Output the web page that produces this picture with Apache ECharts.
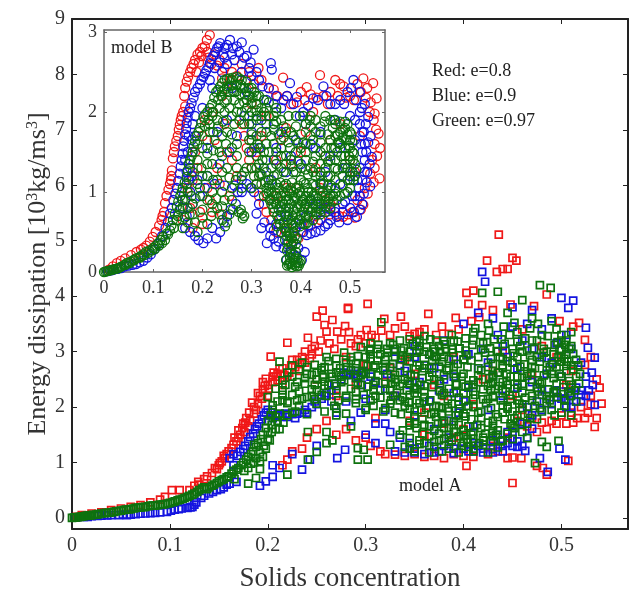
<!DOCTYPE html>
<html><head><meta charset="utf-8">
<style>html,body{margin:0;background:#fff}#c{width:637px;height:590px;filter:blur(.45px)}</style>
<script src="https://cdn.jsdelivr.net/npm/echarts@6/dist/echarts.min.js"></script>
</head><body><div id="c"></div>
<script>
const mainTicksX=[0,0.1,0.2,0.3,0.4,0.5];
const mainTicksY=[0,1,2,3,4,5,6,7,8,9];
const insetTicksX=[0,0.1,0.2,0.3,0.4,0.5];
const insetTicksY=[0,1,2,3];
const legendLines=['Red: e=0.8','Blue: e=0.9','Green: e=0.97'];

const modelARed=[[.005,.02],[.01,.05],[.02,.08],[.03,.1],[.04,.14],[.05,.17],[.06,.2],[.07,.23],[.08,.28],[.09,.33],[.095,.38],[.102,.5],[.11,.5],[.12,.5],[.125,.58],[.129,.65],[.135,.7],[.143,.81],[.148,.88],[.151,.99],[.156,1.08],[.163,1.26],[.168,1.38],[.174,1.62],[.172,1.5],[.178,1.8],[.18,1.65],[.184,2.08],[.188,1.95],[.192,2.2],[.195,2.3],[.198,2.51],[.2,2.2],[.203,2.91],[.205,2.45],[.208,2.55],[.212,2.69],[.215,2.4],[.22,3.16],[.224,2.75],[.23,2.85],[.235,2.9],[.241,3.25],[.245,2.95],[.25,3.63],[.252,3.0],[.256,3.74],[.258,3.48],[.26,3.36],[.266,3.57],[.271,3.36],[.279,3.46],[.282,3.79],[.285,3.15],[.29,3.1],[.301,3.39],[.302,3.86],[.282,3.77],[.295,3.3],[.31,3.25],[.319,3.59],[.325,3.3],[.336,3.63],[.345,3.28],[.355,3.35],[.364,3.68],[.372,3.3],[.385,3.32],[.392,3.61],[.403,4.06],[.405,3.86],[.41,4.1],[.419,3.84],[.424,4.64],[.434,4.44],[.436,5.11],[.44,4.49],[.445,4.49],[.45,4.69],[.454,4.64],[.485,4.03],[.518,3.52],[.524,3.21],[.524,2.76],[.539,2.35],[.541,2.06],[.536,1.8],[.534,1.64],[.524,1.8],[.516,1.8],[.53,2.2],[.52,2.0],[.51,1.9],[.5,1.85],[.49,1.75],[.48,1.72],[.47,1.8],[.46,1.95],[.507,1.03],[.485,.78],[.481,.9],[.475,.94],[.459,1.08],[.45,1.09],[.445,1.08],[.45,.63],[.403,.94],[.41,1.1],[.39,1.15],[.37,1.12],[.35,1.15],[.33,1.14],[.315,1.2],[.3,1.45],[.28,1.6],[.26,1.75],[.24,1.45],[.225,1.2],[.215,.95],[.35,2.6],[.36,1.9],[.38,2.2],[.4,1.6],[.42,2.5],[.44,3.0],[.46,3.4],[.33,2.2],[.31,1.8],[.29,2.4],[.27,2.2],[.25,2.5],[.47,2.6],[.495,2.9],[.505,2.4],[.43,1.3],[.39,1.45],[.345,1.75],[.325,2.7]];
const modelARedDense=[[.13,.6],[.138,.75],[.146,.9],[.153,1.02],[.158,1.15],[.165,1.32],[.17,1.44],[.176,1.55],[.182,1.75],[.186,1.88],[.19,2.05],[.194,2.15],[.197,2.38],[.201,2.33],[.206,2.62],[.21,2.48],[.217,2.58],[.222,2.62],[.228,2.72],[.233,2.78],[.238,3.0],[.243,2.88],[.248,3.1],[.254,3.2],[.263,3.15],[.268,3.05],[.275,3.22],[.283,3.35],[.292,3.22],[.3,3.15],[.306,3.3],[.316,3.38],[.33,3.42],[.34,3.45],[.35,3.32],[.36,3.4],[.378,3.45],[.395,3.4],[.408,3.55],[.416,3.62],[.43,3.75],[.448,3.85],[.472,3.82],[.498,3.55],[.512,3.45],[.53,2.9],[.536,2.5],[.53,2.05],[.527,1.9],[.512,1.72],[.505,1.7],[.495,1.7],[.485,1.6],[.475,1.55],[.465,1.65],[.455,1.75],[.445,1.45],[.435,1.2],[.425,1.15],[.4,1.12],[.38,1.08],[.36,1.1],[.34,1.12],[.32,1.15],[.305,1.3],[.29,1.4],[.27,1.5],[.25,1.6],[.235,1.25],[.22,1.05],[.34,2.85],[.37,2.4],[.39,2.9],[.41,2.05],[.43,2.65],[.45,2.2],[.48,3.1],[.51,2.65],[.36,1.5],[.38,1.7],[.32,2.45],[.3,2.75],[.28,2.9],[.175,1.7],[.181,1.9],[.186,2.0],[.19,2.25],[.195,2.45],[.2,2.4],[.205,2.55],[.21,2.6],[.215,2.7],[.22,2.55],[.225,2.85],[.232,2.65],[.238,2.8],[.245,3.05],[.15,.95],[.155,1.12],[.16,1.2],[.166,1.45],[.17,1.58],[.177,1.72]];

const modelABlue=[[.004,.01],[.012,.02],[.02,.03],[.03,.04],[.04,.05],[.048,.05],[.056,.05],[.065,.07],[.075,.08],[.085,.09],[.097,.11],[.105,.15],[.112,.17],[.118,.18],[.123,.2],[.127,.28],[.132,.36],[.14,.44],[.148,.5],[.155,.55],[.161,.62],[.168,.65],[.192,.58],[.198,.66],[.205,.74],[.205,.95],[.212,.9],[.235,.87],[.243,1.05],[.225,1.15],[.25,1.3],[.271,1.08],[.279,1.23],[.161,1.08],[.165,1.15],[.172,1.19],[.177,1.3],[.182,1.46],[.187,1.6],[.191,1.7],[.196,1.85],[.2,1.95],[.205,1.8],[.21,1.85],[.215,1.82],[.22,1.82],[.225,1.87],[.23,1.88],[.235,1.9],[.24,1.9],[.245,2.0],[.25,2.05],[.255,2.15],[.26,2.25],[.265,2.3],[.27,2.38],[.275,2.5],[.28,2.58],[.284,2.58],[.288,2.6],[.292,2.55],[.296,2.4],[.305,2.55],[.315,2.3],[.32,1.95],[.325,1.55],[.33,1.2],[.34,1.18],[.35,1.25],[.36,1.15],[.37,1.6],[.375,1.2],[.385,1.45],[.39,1.17],[.395,1.9],[.405,1.2],[.41,2.4],[.415,1.3],[.419,4.44],[.422,4.26],[.42,1.18],[.43,1.24],[.435,1.5],[.44,1.4],[.445,1.55],[.45,1.3],[.455,1.28],[.463,1.21],[.47,1.61],[.478,1.08],[.486,.83],[.498,1.25],[.504,1.05],[.5,3.97],[.512,3.92],[.507,3.79],[.525,3.43],[.527,3.07],[.534,2.89],[.531,2.62],[.532,2.4],[.534,2.04],[.525,2.2],[.52,2.3],[.515,2.1],[.51,2.25],[.505,2.0],[.495,2.3],[.485,2.2],[.475,2.1],[.465,2.0],[.455,2.7],[.44,3.1],[.43,3.6],[.415,3.7],[.45,3.8],[.47,3.75],[.49,3.6],[.505,3.3],[.4,3.5],[.38,3.2],[.35,3.1],[.33,3.0],[.345,2.4],[.36,2.75],[.38,2.5],[.4,2.1],[.425,2.8],[.46,3.2],[.48,2.9],[.3,1.5],[.31,1.35],[.285,1.75],[.27,1.9],[.3,2.15]];
const modelABlueDense=[[.016,.02],[.026,.035],[.036,.045],[.052,.06],[.06,.06],[.07,.075],[.08,.085],[.09,.1],[.101,.13],[.109,.16],[.121,.19],[.125,.24],[.135,.4],[.144,.47],[.152,.52],[.158,.6],[.165,.95],[.169,1.12],[.175,1.24],[.18,1.38],[.185,1.52],[.189,1.65],[.194,1.78],[.198,1.9],[.203,1.9],[.208,1.85],[.218,1.88],[.228,1.8],[.238,1.95],[.248,2.1],[.258,2.2],[.268,2.42],[.278,2.62],[.29,2.65],[.298,2.62],[.31,2.45],[.322,2.6],[.335,2.75],[.35,2.9],[.365,2.95],[.39,2.85],[.405,2.95],[.42,3.05],[.435,3.3],[.45,3.45],[.465,3.5],[.48,3.4],[.495,3.15],[.51,3.05],[.52,2.8],[.525,2.55],[.528,2.3],[.52,2.1],[.51,2.0],[.5,2.15],[.49,2.05],[.48,1.95],[.47,1.85],[.46,1.7],[.45,1.55],[.44,1.3],[.43,1.4],[.42,1.25],[.41,1.35],[.4,1.25],[.38,1.3],[.365,1.3],[.345,1.35],[.335,1.45],[.32,1.7],[.31,1.7],[.295,1.9],[.28,2.1],[.265,2.1],[.35,1.85],[.365,2.1],[.385,1.75],[.375,2.3],[.39,2.25],[.41,1.65],[.425,1.95],[.44,2.2],[.455,2.35],[.47,2.45],[.485,2.6],[.5,2.55],[.415,2.7],[.43,2.55],[.445,2.9],[.47,3.05],[.49,2.8],[.34,2.65],[.33,2.2],[.355,2.45],[.37,2.7],[.39,2.55],[.405,2.35],[.445,1.35],[.45,1.42],[.455,1.38],[.46,1.3],[.465,1.45],[.44,1.2],[.43,1.18],[.41,1.2],[.39,1.25],[.37,1.18],[.35,1.18],[.5,2.28],[.51,2.2],[.52,2.22],[.515,2.35],[.505,2.12],[.495,2.18],[.48,2.32]];

const modelAGreen=[[0,0],[.004,.01],[.008,.02],[.012,.03],[.016,.04],[.02,.05],[.025,.06],[.03,.08],[.035,.09],[.04,.1],[.045,.12],[.05,.13],[.055,.15],[.06,.16],[.065,.18],[.07,.19],[.075,.2],[.08,.22],[.085,.22],[.09,.24],[.095,.25],[.1,.27],[.105,.3],[.11,.33],[.115,.36],[.12,.4],[.125,.44],[.13,.5],[.135,.55],[.14,.55],[.145,.6],[.15,.66],[.155,.7],[.16,.75],[.165,.85],[.17,.9],[.175,1.0],[.18,1.1],[.185,1.2],[.19,1.35],[.195,1.5],[.2,1.75],[.205,1.95],[.188,.72],[.18,.62],[.195,1.1],[.202,1.4],[.208,1.6],[.212,2.82],[.21,2.1],[.215,2.3],[.22,.78],[.22,2.1],[.225,2.75],[.225,1.9],[.23,2.45],[.235,2.15],[.241,1.05],[.241,1.55],[.24,2.6],[.245,2.2],[.25,1.19],[.25,2.5],[.255,2.7],[.26,1.35],[.26,1.55],[.26,2.2],[.265,2.6],[.266,1.4],[.27,2.75],[.27,2.3],[.275,2.45],[.28,2.8],[.28,2.2],[.285,2.9],[.29,2.7],[.292,1.05],[.292,1.26],[.298,1.23],[.302,1.05],[.295,2.4],[.3,2.9],[.305,3.05],[.305,2.6],[.31,2.2],[.316,3.53],[.315,2.95],[.32,2.7],[.325,3.15],[.325,2.3],[.33,1.9],[.33,2.9],[.335,3.2],[.335,1.5],[.34,2.5],[.34,2.1],[.345,3.0],[.345,1.25],[.35,1.7],[.35,2.35],[.355,3.2],[.355,2.75],[.36,1.35],[.36,2.1],[.365,1.65],[.365,2.95],[.37,1.9],[.37,2.5],[.375,3.1],[.375,1.4],[.38,1.75],[.38,2.25],[.385,2.7],[.385,1.25],[.39,1.55],[.39,3.2],[.395,2.05],[.395,1.85],[.4,1.35],[.4,2.85],[.405,1.65],[.405,2.4],[.41,3.35],[.41,1.25],[.415,1.9],[.415,2.7],[.419,4.06],[.42,3.15],[.42,1.45],[.425,2.15],[.425,3.5],[.43,1.75],[.43,2.55],[.435,4.08],[.435,3.0],[.44,1.4],[.44,2.3],[.445,3.7],[.445,2.0],[.45,2.8],[.45,1.65],[.455,3.35],[.455,2.4],[.46,3.93],[.46,3.0],[.46,2.05],[.465,1.44],[.465,2.6],[.47,3.6],[.47,2.2],[.473,.99],[.475,2.9],[.478,4.2],[.48,1.37],[.48,3.3],[.48,2.45],[.485,1.28],[.485,3.0],[.489,4.15],[.49,2.6],[.49,3.55],[.495,2.25],[.497,1.39],[.5,2.9],[.5,3.2],[.505,2.65],[.51,3.35],[.51,2.35],[.515,2.85],[.519,2.6],[.515,2.1],[.5,1.9],[.51,1.85],[.49,1.95],[.36,3.0],[.39,2.6],[.41,2.15],[.44,2.75],[.47,3.2],[.375,2.0],[.33,2.45],[.31,2.75],[.3,1.95],[.285,1.65],[.27,1.85]];
const modelAGreenDense=[[.002,.005],[.006,.015],[.01,.025],[.014,.035],[.018,.045],[.022,.055],[.027,.07],[.033,.085],[.038,.095],[.043,.11],[.048,.125],[.053,.14],[.058,.155],[.063,.17],[.068,.185],[.073,.195],[.078,.21],[.083,.22],[.088,.23],[.093,.245],[.098,.26],[.103,.285],[.108,.315],[.113,.345],[.118,.38],[.123,.42],[.128,.47],[.133,.53],[.138,.52],[.143,.58],[.148,.63],[.153,.68],[.158,.73],[.163,.8],[.168,.87],[.173,.95],[.178,1.05],[.183,1.15],[.188,1.28],[.193,1.42],[.198,1.62],[.203,1.85],[.166,.7],[.176,.85],[.186,1.0],[.192,.88],[.198,1.25],[.204,1.55],[.21,1.75],
[.412,3.42],[.426,3.38],[.441,3.45],[.452,3.52],[.468,3.42],[.476,3.5],[.495,3.4],[.345,3.22],[.36,3.28],[.372,3.2],[.388,3.3],[.402,3.24],[.418,3.3],[.431,3.22],[.447,3.3],[.463,3.24],[.486,3.28],[.505,3.2],[.295,3.08],[.313,3.12],[.33,3.05],[.348,3.14],[.362,3.08],[.381,3.13],[.396,3.06],[.409,3.12],[.427,3.06],[.442,3.14],[.458,3.1],[.472,3.05],[.493,3.12],[.508,3.05],[.26,2.9],[.278,2.98],[.292,2.92],[.322,2.98],[.338,2.93],[.352,2.98],[.37,2.92],[.389,2.98],[.403,2.93],[.422,2.98],[.437,2.9],[.451,2.97],[.468,2.93],[.482,2.98],[.497,2.9],[.512,2.96],[.235,2.8],[.248,2.76],[.262,2.83],[.298,2.78],[.312,2.84],[.328,2.78],[.345,2.83],[.36,2.76],[.378,2.82],[.394,2.78],[.408,2.84],[.43,2.78],[.445,2.83],[.462,2.77],[.478,2.82],[.491,2.77],[.506,2.82],[.517,2.75],[.22,2.62],[.232,2.68],[.27,2.62],[.285,2.66],[.3,2.6],[.318,2.66],[.335,2.62],[.351,2.68],[.368,2.62],[.383,2.66],[.4,2.6],[.418,2.66],[.435,2.62],[.452,2.68],[.469,2.62],[.485,2.66],[.498,2.6],[.512,2.68],[.215,2.48],[.238,2.52],[.258,2.46],[.29,2.52],[.31,2.47],[.326,2.53],[.343,2.47],[.358,2.52],[.375,2.47],[.392,2.53],[.41,2.48],[.426,2.52],[.444,2.47],[.46,2.53],[.476,2.48],[.492,2.52],[.508,2.47],[.518,2.42],[.208,2.33],[.228,2.37],[.245,2.32],[.27,2.38],[.285,2.33],[.302,2.37],[.32,2.33],[.335,2.38],[.352,2.32],[.368,2.36],[.385,2.33],[.402,2.37],[.42,2.32],[.436,2.38],[.452,2.33],[.468,2.37],[.486,2.32],[.502,2.36],[.514,2.3],[.2,2.18],[.225,2.22],[.24,2.18],[.255,2.22],[.28,2.17],[.298,2.22],[.315,2.17],[.345,2.22],[.36,2.18],[.378,2.22],[.395,2.17],[.412,2.22],[.43,2.18],[.447,2.22],[.463,2.17],[.48,2.22],[.496,2.18],[.509,2.2],[.205,2.03],[.22,2.07],[.232,2.02],[.25,2.06],[.268,2.02],[.29,2.07],[.308,2.02],[.325,2.06],[.34,2.02],[.355,2.07],[.372,2.02],[.388,2.06],[.405,2.02],[.423,2.07],[.44,2.03],[.457,2.06],[.473,2.02],[.485,2.07],[.503,2.02],[.212,1.88],[.228,1.92],[.24,1.87],[.258,1.92],[.28,1.88],[.318,1.92],[.336,1.87],[.35,1.92],[.367,1.87],[.385,1.92],[.4,1.88],[.418,1.92],[.433,1.87],[.45,1.92],[.466,1.88],[.48,1.92],[.345,1.72],[.358,1.78],[.39,1.74],[.408,1.78],[.425,1.72],[.442,1.78],[.458,1.73],[.475,1.78],[.338,1.58],[.352,1.62],[.37,1.57],[.385,1.62],[.4,1.58],[.418,1.62],[.435,1.58],[.452,1.62],[.345,1.44],[.365,1.47],[.38,1.43],[.395,1.47],[.41,1.43],[.43,1.47],[.325,1.32],[.34,1.28],[.355,1.33],[.37,1.28],[.385,1.33],[.405,1.28],[.42,1.32],[.435,1.27],[.35,1.2],[.365,1.18],[.378,1.2],[.395,1.18],[.41,1.2],[.425,1.18]];
const modelAGreenSolid=[[.2,1.55],[.204,1.68],[.208,1.82],[.212,1.6],[.216,1.72],[.22,1.85],[.183,.98],[.188,1.08],[.192,1.18],[.196,1.3],[.2,1.42],[.186,1.32],[.18,.9],[.192,1.02],[.25,2.62],[.258,2.72],[.266,2.55],[.274,2.7],[.282,2.58],[.29,2.78],[.296,2.62],[.302,2.74],[.248,2.4],[.256,2.55],[.262,2.4],[.278,2.48],[.32,1.98],[.326,2.12],[.332,2.26],[.338,2.18],[.344,2.08],[.35,2.25],[.356,2.4],[.32,2.42],[.33,2.58],[.338,2.42],[.346,2.58],[.352,2.12],[.357,1.95],[.328,2.2],[.375,1.52],[.38,1.62],[.385,1.5],[.378,1.88],[.384,1.98],[.39,1.68],[.392,1.85],[.374,1.7],[.372,2.9],[.376,3.0],[.38,2.9],[.37,3.05],[.382,3.05],[.398,1.3],[.404,1.42],[.41,1.55],[.416,1.35],[.422,1.52],[.428,1.38],[.433,1.5],[.4,1.5],[.425,2.38],[.43,2.45],[.436,2.62],[.44,2.45],[.444,2.6],[.432,2.33],[.495,2.72],[.5,2.82],[.505,2.95],[.51,3.1],[.498,3.05],[.504,3.12],[.51,2.75],[.5,3.3],[.492,2.95],[.305,2.95],[.312,3.05],[.32,2.85],[.328,3.12],[.336,3.02],[.305,3.15],[.342,2.9],[.355,3.1],[.365,2.7],[.392,2.4],[.4,2.25],[.448,2.15],[.455,2.55],[.47,2.72],[.475,2.35],[.485,2.15],[.455,1.85],[.44,1.9],[.43,2.2],[.415,2.45]];
const modelAGreenFill=[[.352,3.17],[.366,3.22],[.38,3.19],[.394,3.18],[.41,3.2],[.424,3.17],[.439,3.22],[.455,3.18],[.475,3.2],[.496,3.17],[.304,3.02],[.322,3.05],[.339,3.06],[.355,3.03],[.371,3.0],[.388,3.04],[.402,3.02],[.418,3.04],[.434,3.01],[.45,3.05],[.465,3.02],[.482,3.05],[.5,3.03],[.27,2.87],[.285,2.84],[.305,2.87],[.32,2.9],[.336,2.86],[.352,2.88],[.368,2.85],[.385,2.87],[.4,2.86],[.415,2.9],[.428,2.87],[.44,2.86],[.455,2.9],[.47,2.85],[.485,2.88],[.503,2.87],[.24,2.72],[.255,2.66],[.28,2.72],[.308,2.72],[.325,2.72],[.342,2.7],[.36,2.7],[.375,2.73],[.39,2.72],[.404,2.72],[.425,2.72],[.44,2.7],[.458,2.73],[.473,2.7],[.488,2.72],[.505,2.74],[.225,2.55],[.245,2.58],[.275,2.55],[.295,2.57],[.313,2.57],[.33,2.5],[.35,2.56],[.365,2.55],[.38,2.57],[.398,2.55],[.415,2.56],[.43,2.58],[.448,2.55],[.465,2.56],[.482,2.57],[.5,2.55],[.515,2.55],[.218,2.4],[.238,2.42],[.258,2.38],[.292,2.44],[.308,2.4],[.326,2.42],[.345,2.42],[.36,2.38],[.376,2.42],[.393,2.42],[.41,2.4],[.428,2.42],[.445,2.4],[.46,2.42],[.478,2.42],[.495,2.42],[.51,2.4],[.215,2.22],[.232,2.28],[.25,2.3],[.29,2.28],[.308,2.3],[.342,2.3],[.36,2.28],[.376,2.28],[.393,2.26],[.41,2.28],[.428,2.3],[.443,2.28],[.46,2.26],[.476,2.28],[.492,2.27],[.507,2.28],[.215,2.12],[.23,2.12],[.248,2.14],[.272,2.12],[.29,2.14],[.305,2.12],[.335,2.12],[.366,2.12],[.384,2.14],[.402,2.12],[.42,2.14],[.438,2.12],[.455,2.12],[.47,2.12],[.488,2.12],[.503,2.12],[.27,1.97],[.3,1.98],[.345,1.97],[.362,1.98],[.378,1.98],[.396,1.97],[.41,2.0],[.428,1.98],[.445,1.97],[.46,1.98],[.478,1.98],[.493,1.85],[.35,1.82],[.372,1.82],[.402,1.83],[.418,1.8],[.435,1.82],[.452,1.8],[.468,1.8],[.345,1.67],[.36,1.68],[.378,1.72],[.395,1.68],[.414,1.68],[.43,1.66],[.448,1.7],[.465,1.7],[.358,1.52],[.392,1.55],[.408,1.5],[.43,1.56],[.445,1.52],[.46,1.55],[.355,1.4],[.37,1.37],[.388,1.4],[.404,1.36],[.42,1.4],[.438,1.38],[.45,1.42]];

const modelBRed=[[.01,.03],[.026,.11],[.043,.17],[.066,.25],[.08,.3],[.093,.38],[.105,.5],[.117,.65],[.122,.75],[.124,.86],[.131,1.03],[.136,1.15],[.138,1.27],[.14,1.42],[.144,1.57],[.15,1.7],[.154,1.84],[.158,1.95],[.165,2.07],[.163,2.2],[.165,2.3],[.171,2.44],[.178,2.55],[.185,2.65],[.19,2.72],[.195,2.75],[.2,2.8],[.209,2.9],[.215,2.96],[.21,2.75],[.225,2.72],[.235,2.65],[.245,2.55],[.26,2.5],[.28,2.6],[.295,2.5],[.314,2.55],[.335,2.3],[.364,2.43],[.352,2.2],[.38,2.1],[.4,2.25],[.412,2.31],[.425,2.0],[.439,2.46],[.455,2.1],[.47,2.4],[.48,2.35],[.487,2.32],[.5,2.2],[.515,2.35],[.527,2.42],[.535,2.3],[.547,2.36],[.554,2.17],[.54,2.0],[.548,1.9],[.558,1.73],[.55,1.6],[.561,1.55],[.545,1.4],[.56,1.17],[.541,1.23],[.53,1.05],[.527,.84],[.515,.9],[.505,.75],[.486,.69],[.47,.8],[.45,.9],[.43,.7],[.4,.5],[.38,.35],[.35,.5],[.33,.75],[.315,.95],[.3,1.3],[.29,1.55],[.28,1.85],[.27,1.2],[.255,.95],[.24,.72],[.22,.75],[.2,.6],[.18,.55],[.16,.65],[.17,1.05],[.19,1.3],[.21,1.05],[.23,1.3],[.25,1.5],[.2,1.7],[.22,2.0],[.24,2.2],[.3,2.1],[.32,1.7],[.35,1.4],[.37,1.8],[.4,1.5],[.43,1.3],[.46,1.65],[.5,1.4],[.52,1.7],[.35,.95],[.39,1.05],[.44,1.05]];
const modelBRedDense=[[.018,.07],[.034,.14],[.055,.21],[.075,.28],[.086,.33],[.099,.44],[.112,.58],[.119,.7],[.127,.95],[.134,1.1],[.137,1.2],[.142,1.5],[.147,1.64],[.152,1.78],[.156,1.9],[.161,2.0],[.168,2.38],[.175,2.5],[.182,2.6],[.188,2.5],[.193,2.62],[.198,2.7],[.205,2.82],[.212,2.68],[.218,2.6],[.23,2.58],[.24,2.42],[.255,2.38],[.27,2.45],[.288,2.4],[.305,2.35],[.32,2.4],[.345,2.28],[.372,2.2],[.392,2.12],[.408,2.15],[.42,2.22],[.432,2.18],[.446,2.2],[.46,2.25],[.475,2.2],[.492,2.18],[.508,2.15],[.522,2.25],[.532,2.18],[.542,2.12],[.55,1.98],[.553,1.78],[.555,1.45],[.55,1.3],[.548,1.12],[.536,.98],[.522,.78],[.51,.68],[.495,.72],[.478,.7],[.46,.72],[.44,.65],[.42,.58],[.395,.42],[.37,.55],[.34,.65],[.325,.85],[.31,1.1],[.295,1.4],[.285,1.7],[.26,1.4],[.235,1.1],[.215,.9],[.195,.75],[.175,.8],[.165,.9],[.18,1.15],[.185,1.5],[.205,1.9],[.225,1.65],[.245,1.85],[.31,1.5],[.33,1.95],[.36,1.65],[.38,1.35],[.41,1.75],[.45,1.45],[.48,1.85],[.51,1.25],[.37,1.05],[.41,.85],[.46,.85]];

const modelBBlue=[[.008,.01],[.02,.03],[.035,.05],[.05,.08],[.065,.1],[.08,.14],[.095,.22],[.11,.35],[.125,.55],[.134,.73],[.141,.9],[.148,1.05],[.154,1.23],[.158,1.4],[.161,1.57],[.165,1.72],[.168,1.86],[.172,2.0],[.178,2.11],[.185,2.25],[.195,2.35],[.202,2.44],[.208,2.52],[.215,2.61],[.222,2.7],[.23,2.8],[.236,2.86],[.245,2.8],[.256,2.9],[.27,2.82],[.28,2.87],[.29,2.7],[.304,2.78],[.295,2.55],[.315,2.4],[.339,2.61],[.341,2.53],[.335,2.3],[.35,2.2],[.365,2.15],[.378,2.36],[.392,2.19],[.405,2.0],[.425,2.17],[.446,2.32],[.46,2.1],[.48,2.15],[.495,2.25],[.507,2.4],[.52,2.25],[.53,2.1],[.537,1.94],[.542,1.7],[.544,1.44],[.535,1.25],[.541,1.07],[.525,.85],[.514,.69],[.5,.8],[.485,.75],[.473,.69],[.46,.65],[.449,.57],[.43,.5],[.412,.46],[.4,.6],[.402,.15],[.39,.2],[.371,.15],[.365,.3],[.345,.42],[.331,.36],[.32,.55],[.31,.73],[.305,1.0],[.29,1.1],[.28,1.0],[.268,.85],[.25,.7],[.236,.5],[.22,.55],[.202,.36],[.185,.45],[.165,.55],[.16,.8],[.175,1.0],[.19,1.15],[.205,1.05],[.225,1.1],[.245,1.08],[.265,1.08],[.28,1.15],[.3,1.5],[.31,1.9],[.29,2.25],[.26,2.3],[.24,2.5],[.22,2.3],[.2,2.05],[.185,1.7],[.21,1.55],[.23,1.75],[.25,1.9],[.33,1.85],[.35,1.55],[.37,1.25],[.39,1.65],[.41,1.85],[.43,1.55],[.45,1.25],[.47,1.9],[.49,1.3],[.51,1.65],[.525,1.5],[.515,1.15],[.5,1.95],[.34,1.15],[.36,.75],[.38,.85],[.42,.9],[.44,.75],[.35,.6],[.37,.5],[.385,.38],[.52,2.0]];
const modelBBlueDense=[[.015,.02],[.028,.04],[.042,.07],[.058,.09],[.072,.12],[.088,.18],[.102,.28],[.118,.45],[.13,.63],[.138,.8],[.145,.98],[.151,1.14],[.156,1.32],[.16,1.48],[.163,1.64],[.167,1.79],[.17,1.93],[.175,2.05],[.182,2.18],[.19,2.3],[.198,2.4],[.205,2.48],[.212,2.56],[.218,2.66],[.226,2.75],[.233,2.82],[.242,2.72],[.25,2.84],[.262,2.8],[.275,2.75],[.285,2.68],[.298,2.62],[.31,2.5],[.322,2.32],[.33,2.15],[.345,2.1],[.36,2.05],[.372,2.2],[.385,2.1],[.398,1.95],[.415,2.08],[.435,2.15],[.452,2.2],[.47,2.1],[.488,2.1],[.502,2.3],[.512,2.15],[.524,2.05],[.532,1.85],[.537,1.62],[.54,1.35],[.534,1.12],[.528,.98],[.52,.78],[.508,.75],[.495,.65],[.478,.62],[.455,.6],[.44,.52],[.42,.48],[.405,.5],[.408,.25],[.395,.3],[.378,.25],[.372,.35],[.355,.38],[.338,.45],[.326,.62],[.315,.85],[.298,1.05],[.272,1.0],[.258,.78],[.243,.62],[.228,.42],[.21,.42],[.192,.4],[.175,.5],[.168,.7],[.165,.9],[.18,.85],[.195,.95],[.21,1.2],[.235,1.35],[.255,1.5],[.27,1.7],[.285,1.95],[.3,1.75],[.315,1.55],[.325,1.3],[.345,1.4],[.36,1.75],[.38,1.45],[.4,1.35],[.42,1.6],[.44,1.75],[.46,1.45],[.48,1.55],[.5,1.2],[.52,1.3],[.53,1.6],[.528,1.75],[.53,1.4],[.52,1.85],[.51,1.9],[.44,1.1],[.46,1.05],[.48,1.1],[.35,.85],[.37,.7],[.39,.55],[.41,.7],[.43,.85],[.45,.8],[.47,.75],[.49,.88],[.505,.95],[.17,1.5],[.172,1.7],[.175,1.3],[.172,1.15],[.18,1.85],[.185,1.95],[.165,1.4],[.525,1.75],[.522,1.6],[.533,1.5],[.53,1.25],[.525,1.15],[.518,1.05],[.51,.95],[.52,.95],[.485,.85],[.46,.78],[.435,.62],[.415,.58],[.345,.52],[.35,.32],[.338,.55],[.25,2.6],[.265,2.65],[.28,2.5],[.3,2.45],[.235,2.62],[.245,2.68],[.26,2.72],[.225,2.55],[.215,2.4],[.178,1.65],[.18,1.5],[.178,1.2],[.168,1.25]];

const modelBGreen=[[0,0],[.006,.01],[.012,.02],[.018,.03],[.024,.04],[.03,.05],[.036,.07],[.046,.11],[.055,.13],[.065,.17],[.075,.2],[.085,.25],[.1,.3],[.11,.36],[.12,.44],[.134,.52],[.14,.65],[.148,.82],[.155,.95],[.16,1.05],[.168,1.19],[.172,1.35],[.178,1.45],[.182,1.57],[.188,1.7],[.195,1.8],[.202,1.94],[.21,2.0],[.22,2.1],[.228,2.25],[.236,2.32],[.245,2.4],[.255,2.42],[.27,2.44],[.28,2.4],[.285,2.3],[.29,2.15],[.305,2.25],[.315,2.2],[.33,2.05],[.345,1.95],[.36,1.9],[.38,1.75],[.41,1.85],[.43,1.9],[.45,1.95],[.47,1.85],[.49,1.8],[.5,1.65],[.505,1.5],[.51,1.35],[.507,1.15],[.5,1.05],[.49,.98],[.48,.95],[.473,.9],[.46,.8],[.44,.72],[.425,.65],[.41,.6],[.398,.57],[.392,.42],[.39,.25],[.398,.11],[.388,.08],[.378,.11],[.37,.15],[.372,.27],[.368,.4],[.36,.5],[.351,.57],[.345,.75],[.337,.9],[.33,1.05],[.317,1.23],[.31,1.45],[.3,1.65],[.295,1.85],[.28,.73],[.285,.7],[.274,.75],[.246,.57],[.24,.65],[.23,.8],[.21,.6],[.19,.5],[.17,.62],[.18,.85],[.2,.95],[.22,1.0],[.24,1.0],[.26,1.05],[.28,1.05],[.3,1.05],[.2,1.2],[.22,1.35],[.24,1.45],[.26,1.55],[.27,1.3],[.21,1.65],[.23,1.6],[.25,1.75],[.26,1.95],[.275,2.1],[.25,2.15],[.235,2.05],[.215,1.85],[.265,2.25],[.3,2.0],[.32,1.9],[.34,1.7],[.36,1.55],[.38,1.4],[.4,1.55],[.42,1.7],[.44,1.5],[.46,1.65],[.48,1.75],[.49,1.55],[.485,1.3],[.46,1.2],[.44,1.25],[.42,1.3],[.4,1.15],[.37,1.1],[.345,1.2],[.33,1.4],[.325,.95],[.34,1.0],[.355,1.05],[.37,.95],[.385,1.0],[.4,.95],[.415,1.0],[.43,.95],[.445,1.0],[.46,.95],[.35,.85],[.365,.85],[.38,.85],[.395,.85],[.41,.85],[.425,.85],[.44,.85],[.455,.88],[.36,.7],[.375,.72],[.39,.72],[.405,.75],[.42,.75],[.435,.8],[.372,.58],[.385,.58],[.378,.45],[.382,.33],[.38,.22],[.385,.15],[.39,.12],[.31,1.1],[.32,1.1],[.33,1.25],[.35,1.35],[.47,1.4],[.495,1.15],[.5,1.4],[.5,1.75],[.48,1.6],[.45,1.45],[.41,1.4],[.39,1.25],[.37,1.75]];
const modelBGreenDense=[[.003,.005],[.009,.015],[.015,.025],[.021,.035],[.027,.045],[.033,.06],[.041,.09],[.05,.12],[.06,.15],[.07,.18],[.08,.22],[.092,.27],[.105,.33],[.115,.4],[.127,.48],[.137,.58],[.144,.73],[.151,.88],[.158,1.0],[.164,1.12],[.17,1.27],[.175,1.4],[.18,1.5],[.185,1.63],[.192,1.75],[.198,1.87],[.206,1.97],[.215,2.05],[.224,2.18],[.232,2.28],[.24,2.36],[.25,2.41],[.262,2.43],[.275,2.42],[.27,2.34],[.26,2.33],[.25,2.32],[.24,2.26],[.28,2.3],[.265,2.15],[.275,2.22],[.285,2.12],[.295,2.2],[.3,2.12],[.31,2.1],[.32,2.05],[.335,1.95],[.35,1.88],[.31,1.95],[.32,1.75],[.33,1.6],[.315,1.35],[.325,1.5],[.31,1.3],[.32,1.22],[.335,1.15],[.35,1.1],[.365,1.0],[.38,1.05],[.395,1.08],[.41,1.1],[.425,1.1],[.44,1.12],[.455,1.08],[.47,1.05],[.485,1.08],[.495,1.0],[.47,.98],[.45,.95],[.435,.92],[.42,.92],[.405,.9],[.39,.93],[.375,.9],[.36,.95],[.345,.95],[.335,1.0],[.34,.85],[.355,.78],[.37,.8],[.385,.78],[.4,.82],[.415,.78],[.43,.75],[.45,.82],[.465,.88],[.41,.68],[.395,.65],[.38,.65],[.365,.62],[.355,.66],[.37,.52],[.385,.5],[.375,.38],[.38,.28],[.378,.18],[.375,.1],[.382,.06],[.392,.07],[.4,.14],[.393,.17],[.386,.22],[.372,.45],[.39,.35],[.43,1.45],[.44,1.62],[.455,1.72],[.465,1.8],[.475,1.72],[.485,1.68],[.495,1.72],[.505,1.62],[.498,1.58],[.49,1.45],[.495,1.3],[.505,1.25],[.47,1.55],[.46,1.4],[.475,1.28],[.45,1.3],[.43,1.2],[.415,1.22],[.4,1.3],[.385,1.25],[.365,1.25],[.35,1.5],[.37,1.45],[.39,1.5],[.41,1.6],[.425,1.55],[.385,1.7],[.4,1.72],[.42,1.82],[.44,1.82],[.46,1.9],[.48,1.88],[.355,1.72],[.36,1.3],[.345,1.85],[.325,2.0],[.3,1.85],[.305,1.55],[.3,1.3],[.295,1.5],[.27,1.6],[.25,1.3],[.23,1.15],[.21,1.35],[.19,1.4],[.18,1.25],[.17,1.0],[.16,.82],[.15,.7],[.16,.55],[.18,.72],[.2,.78],[.22,.85],[.24,.82],[.26,.9],[.278,.78],[.282,.67],[.25,.62],[.215,1.75],[.23,1.9],[.245,2.0],[.22,1.95],[.24,1.7]];
const modelBGreenSolid=[[.328,1.12],[.335,1.08],[.342,1.1],[.35,.98],[.358,1.12],[.366,1.08],[.374,1.02],[.382,1.12],[.39,1.05],[.398,1.0],[.406,1.12],[.414,1.05],[.422,1.0],[.43,1.08],[.438,1.02],[.446,1.1],[.454,1.02],[.462,1.08],[.33,.98],[.338,.92],[.346,.88],[.354,.92],[.362,.88],[.37,.9],[.378,.98],[.386,.92],[.394,.98],[.402,.88],[.41,.95],[.418,.88],[.426,.95],[.434,.88],[.442,.95],[.45,.88],[.458,.92],[.466,.95],[.344,.8],[.352,.7],[.36,.82],[.368,.72],[.376,.8],[.384,.7],[.392,.8],[.4,.7],[.408,.82],[.416,.7],[.424,.8],[.432,.72],[.44,.78],[.45,.75],[.358,.6],[.366,.55],[.374,.65],[.382,.6],[.39,.62],[.398,.65],[.406,.6],[.414,.62],[.376,.5],[.382,.42],[.388,.45],[.374,.3],[.384,.38],[.379,.13],[.383,.1],[.388,.17],[.394,.12],[.372,.08],[.396,.08],[.47,1.7],[.478,1.62],[.486,1.78],[.492,1.65],[.5,1.55],[.506,1.4],[.498,1.45],[.482,1.45],[.474,1.5],[.49,1.35],[.5,1.25],[.51,1.2],[.485,1.2],[.47,1.15],[.455,1.2],[.44,1.2],[.425,1.25],[.252,2.25],[.26,2.4],[.27,2.26],[.278,2.34],[.262,2.26],[.286,2.22],[.294,2.3],[.302,2.18],[.31,2.02],[.32,1.95],[.245,2.28],[.238,2.2],[.31,1.7],[.318,1.55],[.312,1.6],[.322,1.4],[.315,1.2],[.305,1.2],[.13,.47],[.124,.4],[.118,.36],[.112,.33],[.104,.29],[.098,.27],[.09,.24],[.082,.21],[.074,.18],[.062,.15],[.052,.11],[.044,.09],[.142,.55],[.148,.65],[.154,.78],[.16,.9],[.168,1.1],[.164,.68],[.174,.72],[.178,.95],[.186,.92],[.19,1.1]];
const modelBGreenFill=[[.205,1.82],[.212,1.9],[.222,1.75],[.232,1.82],[.242,1.88],[.2,1.55],[.21,1.48],[.222,1.52],[.235,1.5],[.248,1.6],[.26,1.72],[.19,1.6],[.198,1.3],[.21,1.2],[.222,1.15],[.24,1.25],[.255,1.18],[.268,1.15],[.285,1.25],[.195,1.05],[.21,.9],[.228,.92],[.245,.9],[.262,.78],[.17,.8],[.185,.62],[.2,.68],[.218,.7],[.235,.72],[.255,.72],[.34,1.3],[.352,1.22],[.37,1.35],[.382,1.32],[.395,1.38],[.41,1.28],[.425,1.38],[.44,1.35],[.455,1.38],[.47,1.3],[.335,1.5],[.345,1.6],[.36,1.45],[.378,1.55],[.395,1.62],[.41,1.5],[.425,1.65],[.44,1.72],[.45,1.55],[.462,1.55],[.475,1.62],[.33,1.75],[.345,1.78],[.365,1.68],[.375,1.62],[.39,1.82],[.405,1.62],[.418,1.9],[.43,1.75],[.448,1.88],[.468,1.9],[.49,1.88],[.503,1.72],[.508,1.48],[.513,1.28],[.5,1.15],[.495,1.85],[.35,2.0],[.365,1.82],[.375,1.95],[.39,1.95],[.405,1.95],[.42,1.95],[.335,2.12],[.35,2.05],[.325,2.15],[.31,2.2],[.3,2.3],[.29,2.38],[.29,2.05],[.28,2.0],[.275,1.9],[.265,1.85],[.27,2.0],[.255,2.05],[.245,2.12],[.232,2.15],[.222,2.0],[.285,1.85],[.295,1.95],[.3,1.72],[.295,1.65],[.29,1.3],[.28,1.2],[.27,1.45]];

const serif='"Liberation Serif","Times New Roman",serif';
const ink='#333';
function axisBase(ticks,labelSize,lineColor,lineWidth,tickLen){return {
  type:'value',splitLine:{show:false},
  axisLine:{show:true,onZero:false,lineStyle:{color:lineColor,width:lineWidth}},
  axisTick:{show:true,inside:true,length:tickLen,customValues:ticks,lineStyle:{color:lineColor,width:1}},
  axisLabel:{show:true,customValues:ticks,fontFamily:serif,fontSize:labelSize,color:ink,margin:7,
    showMinLabel:true,showMaxLabel:true,hideOverlap:false,formatter:v=>String(v)}
};}
function mirror(a,pos){const m=JSON.parse(JSON.stringify(a));m.position=pos;m.axisLabel={show:false};return m;}

const mainX=Object.assign(axisBase(mainTicksX,20,'#222',2,5),{gridIndex:0,min:0,max:.568,position:'bottom',
  name:'Solids concentration',nameLocation:'middle',nameGap:36,nameMoveOverlap:false,nameTextStyle:{fontFamily:serif,fontSize:27,color:ink}});
const mainY=Object.assign(axisBase(mainTicksY,20,'#222',2,5),{gridIndex:0,min:-.2,max:9,position:'left',
  name:'{n|Energy dissipation [10}{s|3}{n|kg/ms}{s|3}{n|]}',nameLocation:'middle',nameGap:21,nameRotate:90,nameMoveOverlap:false,
  nameTextStyle:{rich:{n:{fontFamily:serif,fontSize:26,color:ink},s:{fontFamily:serif,fontSize:16,color:ink,verticalAlign:'top',padding:[0,0,9,0]}}}});
const insetX=Object.assign(axisBase(insetTicksX,18,'#666',1.5,3),{gridIndex:1,min:0,max:.5711,position:'bottom'});
const insetY=Object.assign(axisBase(insetTicksY,18,'#666',1.5,3),{gridIndex:1,min:0,max:3.025,position:'left'});

function scatter(name,data,color,symbol,size,ax,ay,w){return {name,type:'scatter',data,xAxisIndex:ax,yAxisIndex:ay,symbol,symbolSize:size,clip:false,silent:true,z:5,large:false,
  itemStyle:{color:'rgba(0,0,0,0)',borderColor:color,borderWidth:w,opacity:1}};}
const RED='#f01818',BLUE='#1414e0',GREEN='#0e720e';
const chart=echarts.init(document.getElementById('c'),null,{renderer:'canvas'});
chart.setOption({
  animation:false,backgroundColor:'#fff',
  grid:[{left:72,top:19,width:556,height:510,outerBoundsMode:'none'},{left:104,top:30,width:281,height:242,outerBoundsMode:'none'}],
  xAxis:[mainX,mirror(mainX,'top'),insetX,mirror(insetX,'top')].map(a=>{if(a.position==='top'){delete a.name;}return a;}),
  yAxis:[mainY,mirror(mainY,'right'),insetY,mirror(insetY,'right')].map(a=>{if(a.position==='right'){delete a.name;}return a;}),
  series:[
    scatter('A e=0.8',modelARed.concat(modelARedDense),RED,'rect',7,0,0,1.7),
    scatter('A e=0.9',modelABlue.concat(modelABlueDense),BLUE,'rect',7,0,0,1.7),
    scatter('A e=0.97',modelAGreen.concat(modelAGreenDense,modelAGreenSolid,modelAGreenFill),GREEN,'rect',7,0,0,1.7),
    scatter('B e=0.8',modelBRed.concat(modelBRedDense),RED,'circle',9,2,2,1.3),
    scatter('B e=0.9',modelBBlue.concat(modelBBlueDense),BLUE,'circle',9,2,2,1.3),
    scatter('B e=0.97',modelBGreen.concat(modelBGreenDense,modelBGreenSolid,modelBGreenFill),GREEN,'circle',9,2,2,1.3)
  ],
  graphic:[
    {type:'text',left:111,top:39,z:20,style:{text:'model B',font:'18px '+serif,fill:'#222'}},
    {type:'text',left:399,top:477,z:20,style:{text:'model A',font:'18px '+serif,fill:'#222'}},
    {type:'text',left:432,top:62,z:20,style:{text:legendLines[0],font:'18px '+serif,fill:'#222'}},
    {type:'text',left:432,top:87,z:20,style:{text:legendLines[1],font:'18px '+serif,fill:'#222'}},
    {type:'text',left:432,top:112,z:20,style:{text:legendLines[2],font:'18px '+serif,fill:'#222'}}
  ]
});
</script></body></html>
